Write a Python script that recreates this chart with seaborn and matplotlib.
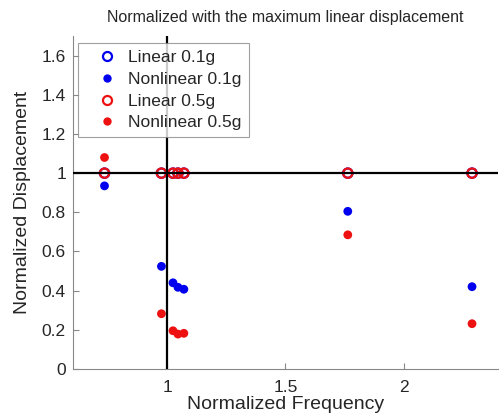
import numpy as np
import pandas as pd
import seaborn as sns
import matplotlib
matplotlib.use("Agg")
import matplotlib.pyplot as plt
from matplotlib.lines import Line2D

# 주파수 (정규화)
freq = [0.734, 0.975, 1.024, 1.045, 1.07, 1.764, 2.29]

# 선형 변위 (정규화 -> 모두 1)
lin_01 = [1, 1, 1, 1, 1, 1, 1]
lin_05 = [1, 1, 1, 1, 1, 1, 1]
# 비선형 변위
nonlin_01 = [0.935, 0.524, 0.44, 0.417, 0.407, 0.805, 0.42]
nonlin_05 = [1.08, 0.282, 0.195, 0.178, 0.182, 0.685, 0.231]

df = pd.DataFrame({'freq': freq, 'lin_01': lin_01, 'nonlin_01': nonlin_01,
                   'lin_05': lin_05, 'nonlin_05': nonlin_05})

sns.set_style('white')
plt.rcParams['font.family'] = ['Liberation Sans', 'DejaVu Sans']

fig = plt.figure(figsize=(4.99, 4.15), dpi=100)
ax = fig.add_axes([0.146, 0.111, 0.852, 0.802])

sns.scatterplot(data=df, x='freq', y='lin_01', ax=ax, s=45, facecolor='none',
                edgecolor='#0000ee', linewidth=1.6, zorder=3)
sns.scatterplot(data=df, x='freq', y='nonlin_01', ax=ax, s=40, color='#0000ee',
                edgecolor='none', zorder=3)
sns.scatterplot(data=df, x='freq', y='lin_05', ax=ax, s=45, facecolor='none',
                edgecolor='#ee1111', linewidth=1.6, zorder=4)
sns.scatterplot(data=df, x='freq', y='nonlin_05', ax=ax, s=40, color='#ee1111',
                edgecolor='none', zorder=4)

ax.axhline(1, color='black', lw=1.6, zorder=5)
ax.axvline(1, color='black', lw=1.6, zorder=5)

ax.set_xlim(0.6, 2.4)
ax.set_ylim(0, 1.7)
ax.set_xticks([1, 1.5, 2])
ax.set_xticklabels(['1', '1.5', '2'])
yt = [0, 0.2, 0.4, 0.6, 0.8, 1, 1.2, 1.4, 1.6]
ax.set_yticks(yt)
ax.set_yticklabels(['0', '0.2', '0.4', '0.6', '0.8', '1', '1.2', '1.4', '1.6'])
ax.tick_params(direction='in', length=4, labelsize=12.5, color='#888888', width=0.8,
               bottom=True, left=True)
ax.tick_params(axis='x', pad=8)
ax.tick_params(axis='y', pad=5)

for s in ['top', 'right']:
    ax.spines[s].set_visible(False)
for s in ['left', 'bottom']:
    ax.spines[s].set_color('#888888')
    ax.spines[s].set_linewidth(0.8)

ax.set_xlabel('Normalized Frequency', fontsize=14, labelpad=1)
ax.set_ylabel('Normalized Displacement', fontsize=14, labelpad=8)
ax.set_title('Normalized with the maximum linear displacement', fontsize=11.5, pad=10)

handles = [
    Line2D([], [], ls='none', marker='o', ms=6.5, mfc='none', mec='#0000ee', mew=1.6),
    Line2D([], [], ls='none', marker='o', ms=6, mfc='#0000ee', mec='none'),
    Line2D([], [], ls='none', marker='o', ms=6.5, mfc='none', mec='#ee1111', mew=1.6),
    Line2D([], [], ls='none', marker='o', ms=6, mfc='#ee1111', mec='none'),
]
labels = ['Linear 0.1g', 'Nonlinear 0.1g', 'Linear 0.5g', 'Nonlinear 0.5g']
leg = ax.legend(handles, labels, loc='upper left', bbox_to_anchor=(0.012, 0.979),
                borderaxespad=0, fontsize=12.5, frameon=True, fancybox=False,
                edgecolor='#888888', handletextpad=0.0, borderpad=0.4,
                labelspacing=0.38, handlelength=2.5)
leg.get_frame().set_linewidth(0.8)
leg.set_zorder(10)

fig.savefig('out.png', dpi=100)
